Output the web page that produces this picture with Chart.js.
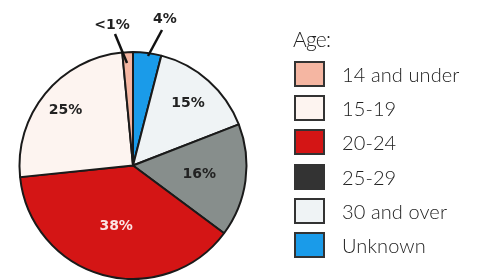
<!DOCTYPE html>
<html>
<head>
<meta charset="utf-8">
<script src="https://cdn.jsdelivr.net/npm/chart.js@4"></script>
<style>
  html, body { margin: 0; padding: 0; background: #fff; }
  #wrap { position: relative; width: 480px; height: 280px; overflow: hidden; }
  #c { position: absolute; left: 0; top: 0; }
  #legend { position: absolute; left: 294px; top: 26px; font-family: Lato, "Open Sans", sans-serif; font-weight: 300; color: #222; }
  #legend .title { font-size: 21px; line-height: 26px; margin: 0 0 5px -1px; letter-spacing: -0.8px; }
  #legend .row { display: flex; align-items: center; height: 34.2px; }
  #legend .box { width: 27px; height: 22px; border: 2px solid #333; margin-right: 17px; box-sizing: content-box; }
  #legend .txt { font-size: 20px; letter-spacing: 0.1px; }
</style>
</head>
<body>
<div id="wrap">
  <canvas id="c" width="480" height="280"></canvas>
  <div id="legend"></div>
</div>
<script>
// Legend order (top to bottom)
const categories = ["14 and under", "15-19", "20-24", "25-29", "30 and over", "Unknown"];
const values = [1.5, 25, 38, 16, 15, 4];
const valueLabels = ["<1%", "25%", "38%", "16%", "15%", "4%"];
const sliceColors = ["#f5b6a2", "#fdf4f0", "#d41515", "#878e8c", "#eff3f5", "#1a9be9"];
const legendColors = ["#f5b6a2", "#fdf4f0", "#d41515", "#333333", "#eff3f5", "#1a9be9"];
const legendTitle = "Age:";

// Slices go counter-clockwise in legend order; Chart.js draws clockwise, so reverse.
const order = categories.map((_, i) => categories.length - 1 - i);

const labelStyle = {
  "<1%": { mode: "callout", text: [112, 25], from: [115, 34], to: [127, 63] },
  "4%":  { mode: "callout", text: [165, 19], from: [162, 30], to: [148, 56] },
  "25%": { mode: "in", r: 0.77 },
  "38%": { mode: "in", r: 0.56, color: "#fbe3e3" },
  "16%": { mode: "in", r: 0.59 },
  "15%": { mode: "in", r: 0.73 }
};

const sliceLabels = {
  id: "sliceLabels",
  afterDatasetsDraw(chart) {
    const ctx = chart.ctx;
    const meta = chart.getDatasetMeta(0);
    ctx.save();
    ctx.font = "bold 14px 'DejaVu Sans', sans-serif";
    ctx.textAlign = "center";
    ctx.textBaseline = "middle";
    meta.data.forEach((arc, i) => {
      const lbl = chart.data.datasets[0].valueLabels[i];
      const st = labelStyle[lbl];
      const p = arc.getProps(["x", "y", "startAngle", "endAngle", "outerRadius"], true);
      if (st.mode === "in") {
        const a = (p.startAngle + p.endAngle) / 2;
        const r = p.outerRadius * st.r;
        ctx.fillStyle = st.color || "#222";
        ctx.fillText(lbl, p.x + Math.cos(a) * r, p.y + Math.sin(a) * r);
      } else {
        ctx.fillStyle = "#222";
        ctx.fillText(lbl, st.text[0], st.text[1]);
        ctx.strokeStyle = "#111";
        ctx.lineWidth = 2.5;
        ctx.beginPath();
        ctx.moveTo(st.from[0], st.from[1]);
        ctx.lineTo(st.to[0], st.to[1]);
        ctx.stroke();
      }
    });
    ctx.restore();
  }
};

new Chart(document.getElementById("c"), {
  type: "pie",
  data: {
    labels: order.map(i => categories[i]),
    datasets: [{
      data: order.map(i => values[i]),
      valueLabels: order.map(i => valueLabels[i]),
      backgroundColor: order.map(i => sliceColors[i]),
      borderColor: "#1a1a1a",
      borderWidth: 2
    }]
  },
  options: {
    responsive: false,
    animation: false,
    layout: { padding: { left: 18, right: 232, top: 51, bottom: 0 } },
    plugins: { legend: { display: false }, tooltip: { enabled: false } }
  },
  plugins: [sliceLabels]
});

// HTML legend
const lg = document.getElementById("legend");
const t = document.createElement("div");
t.className = "title";
t.textContent = legendTitle;
lg.appendChild(t);
categories.forEach((c, i) => {
  const row = document.createElement("div");
  row.className = "row";
  const b = document.createElement("div");
  b.className = "box";
  b.style.background = legendColors[i];
  const tx = document.createElement("div");
  tx.className = "txt";
  tx.textContent = c;
  row.appendChild(b);
  row.appendChild(tx);
  lg.appendChild(row);
});
</script>
</body>
</html>
